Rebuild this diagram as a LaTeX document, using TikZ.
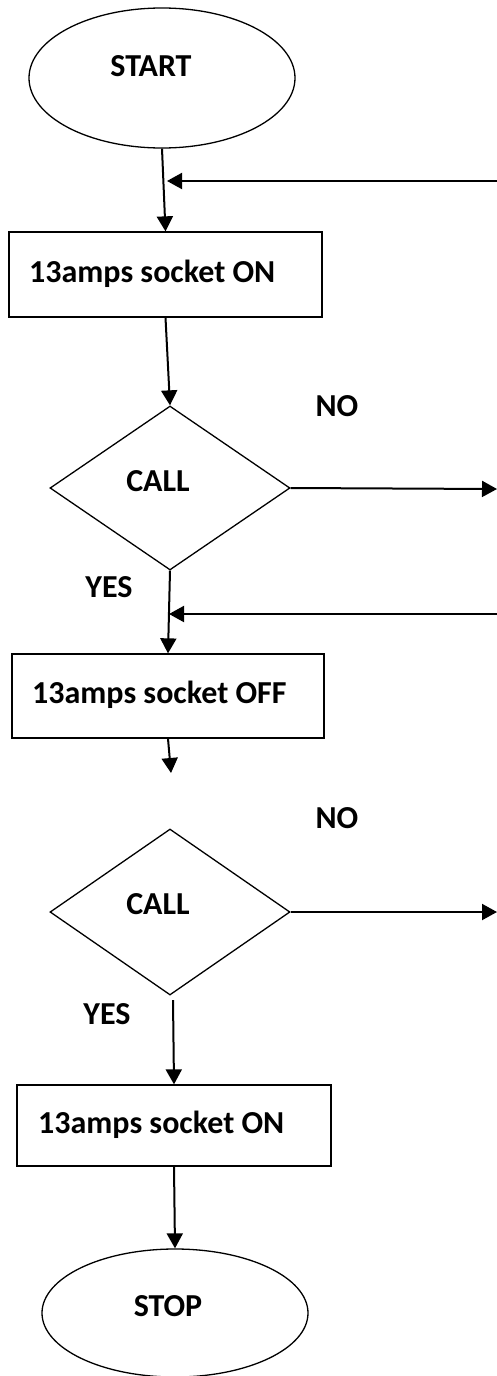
\documentclass[tikz,border=0pt]{standalone}
\usepackage{fontspec}
\setmainfont{Carlito}
\usetikzlibrary{shapes.geometric,arrows.meta}
\begin{document}
\begin{tikzpicture}[x=1pt,y=-1pt,
  outline/.style={draw,line width=1.3pt,inner sep=0pt},
  conn/.style={line width=2pt,-{Triangle[length=15pt,width=16pt]}},
  lbl/.style={font=\fontsize{32}{38}\selectfont\bfseries,inner sep=0pt}]
\useasboundingbox (0,0) rectangle (497,1376);
\fill[white] (0,0) rectangle (497,1376);

% shapes
\node[outline,ellipse,minimum width=266pt,minimum height=140pt] (start) at (162,78) {};
\node[outline,rectangle,minimum width=313pt,minimum height=85pt] (b1) at (165.5,274.5) {};
\node[outline,diamond,minimum width=240pt,minimum height=164pt] (d1) at (170,488) {};
\node[outline,rectangle,minimum width=312pt,minimum height=84pt] (b2) at (168,696) {};
\node[outline,diamond,minimum width=240pt,minimum height=166pt] (d2) at (170,912) {};
\node[outline,rectangle,minimum width=314pt,minimum height=81pt] (b3) at (174,1125.5) {};
\node[outline,ellipse,minimum width=266pt,minimum height=128pt] (stop) at (175,1313) {};

% texts
\node[lbl,anchor=base] (tstart) at (151,76) {START};
\node[lbl,anchor=base west] (tb1) at (29,282) {13amps socket ON};
\node[lbl,anchor=base] (tc1) at (158,491) {CALL};
\node[lbl,anchor=base] (tno1) at (337,416) {NO};
\node[lbl,anchor=base] (tyes1) at (109,597) {YES};
\node[lbl,anchor=base west] (tb2) at (32,703) {13amps socket OFF};
\node[lbl,anchor=base] (tno2) at (337,828) {NO};
\node[lbl,anchor=base] (tc2) at (158,914) {CALL};
\node[lbl,anchor=base] (tyes2) at (107,1024) {YES};
\node[lbl,anchor=base west] (tb3) at (38,1133) {13amps socket ON};
\node[lbl,anchor=base] (tstop) at (168,1316) {STOP};

% coordinates for free ends
\coordinate (r1) at (497,181);
\coordinate (j1) at (167,181);
\coordinate (r2) at (497,489);
\coordinate (r3) at (497,614);
\coordinate (j3) at (169,614);
\coordinate (e2) at (171,773);
\coordinate (r4) at (497,912);
\coordinate (s3) at (173,1000);

% connectors
\draw[conn] (start.south) -- (b1.north);
\draw[conn] (r1) -- (j1);
\draw[conn] (b1.south) -- (d1.north);
\draw[conn] (d1.east) -- (r2);
\draw[conn] (d1.south) -- (b2.north);
\draw[conn] (r3) -- (j3);
\draw[conn] (b2.south) -- (e2);
\draw[conn] (d2.east) -- (r4);
\draw[conn] (s3) -- (b3.north);
\draw[conn] (b3.south) -- (stop.north);
\end{tikzpicture}
\end{document}
